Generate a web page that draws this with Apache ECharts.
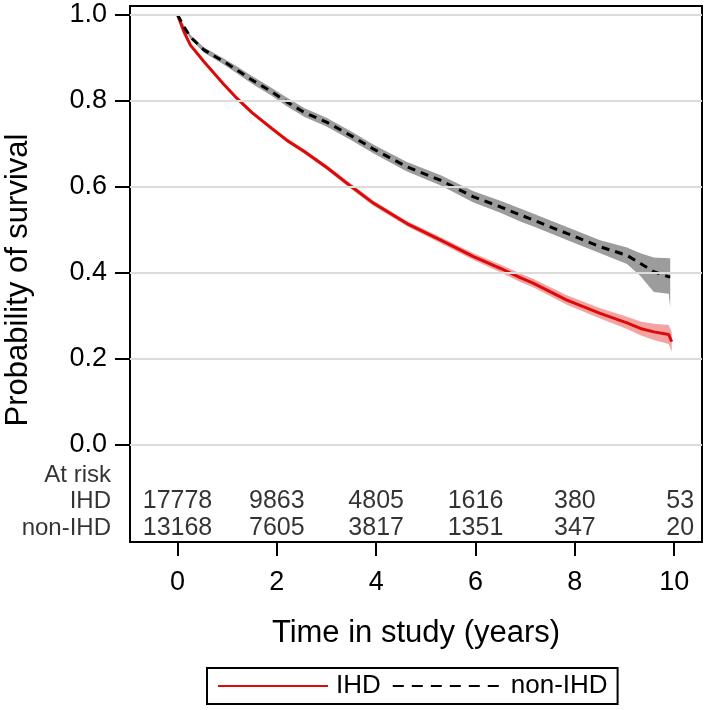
<!DOCTYPE html>
<html>
<head>
<meta charset="utf-8">
<script src="https://cdn.jsdelivr.net/npm/echarts@6/dist/echarts.min.js"></script>
<style>html,body{margin:0;padding:0;background:#fff}#c{width:709px;height:710px}</style>
</head>
<body>
<div id="c"></div>
<script>
// ---- data ----
const ihdTimes = [0, 0.13, 0.26, 0.53, 0.93, 1.2, 1.5, 1.89, 2.2, 2.56, 3.0, 3.5, 3.95, 4.62, 5.29, 5.96, 6.5, 6.9, 7.17, 7.84, 8.51, 9.05, 9.32, 9.59, 9.89, 9.95];
const ihdSurv  = [1.0, 0.960, 0.929, 0.891, 0.838, 0.805, 0.772, 0.736, 0.708, 0.681, 0.645, 0.600, 0.561, 0.514, 0.476, 0.437, 0.410, 0.388, 0.375, 0.336, 0.305, 0.283, 0.270, 0.262, 0.256, 0.239];
const ihdLower = [1.0, 0.958, 0.926, 0.888, 0.834, 0.801, 0.768, 0.731, 0.703, 0.676, 0.640, 0.594, 0.555, 0.508, 0.469, 0.429, 0.401, 0.378, 0.365, 0.325, 0.293, 0.269, 0.254, 0.243, 0.234, 0.216];
const ihdUpper = [1.0, 0.962, 0.932, 0.894, 0.842, 0.809, 0.776, 0.741, 0.713, 0.686, 0.650, 0.606, 0.567, 0.520, 0.483, 0.445, 0.419, 0.398, 0.385, 0.347, 0.317, 0.297, 0.286, 0.281, 0.278, 0.262];

const nonTimes = [0, 0.13, 0.26, 0.53, 0.93, 1.2, 1.5, 1.89, 2.2, 2.56, 3.0, 3.5, 3.95, 4.62, 5.29, 5.96, 6.5, 6.9, 7.17, 7.84, 8.51, 9.05, 9.32, 9.59, 9.89, 9.92];
const nonSurv  = [1.0, 0.972, 0.948, 0.918, 0.891, 0.871, 0.848, 0.821, 0.797, 0.772, 0.750, 0.718, 0.687, 0.646, 0.615, 0.576, 0.553, 0.534, 0.522, 0.491, 0.460, 0.440, 0.421, 0.402, 0.390, 0.390];
const nonLower = [1.0, 0.968, 0.943, 0.912, 0.884, 0.863, 0.839, 0.812, 0.787, 0.762, 0.740, 0.708, 0.677, 0.635, 0.603, 0.563, 0.539, 0.519, 0.507, 0.476, 0.445, 0.420, 0.392, 0.355, 0.351, 0.320];
const nonUpper = [1.0, 0.976, 0.953, 0.924, 0.898, 0.879, 0.857, 0.830, 0.807, 0.782, 0.760, 0.728, 0.697, 0.657, 0.627, 0.589, 0.567, 0.549, 0.537, 0.506, 0.475, 0.458, 0.445, 0.435, 0.433, 0.433];

const xTicks = [0, 2, 4, 6, 8, 10];
const yTicks = [0, 0.2, 0.4, 0.6, 0.8, 1.0];

const riskTimes = [0, 2, 4, 6, 8, 10];
const riskIHD = [17778, 9863, 4805, 1616, 380, 53];
const riskNon = [13168, 7605, 3817, 1351, 347, 20];
const riskRowLabels = ['At risk', 'IHD', 'non-IHD'];

// ---- layout constants ----
const X_MIN = -0.956, X_MAX = 10.56;
const Y_MIN = -0.2267, Y_MAX = 1.02;
const ROW_Y = [-0.0715, -0.132, -0.195];
const FONT = "'Liberation Sans', Arial, sans-serif";

const zip = (a, b) => a.map((v, i) => [v, b[i]]);

function bandSeries(name, times, lo, hi, color) {
  return {
    name: name,
    type: 'custom',
    silent: true,
    z: 1,
    data: [[times[0], lo[0]]],
    renderItem: function (params, api) {
      const pts = [];
      for (let i = 0; i < times.length; i++) pts.push(api.coord([times[i], hi[i]]));
      for (let i = times.length - 1; i >= 0; i--) pts.push(api.coord([times[i], lo[i]]));
      return { type: 'polygon', shape: { points: pts }, style: { fill: color } };
    }
  };
}

const tableData = [];
riskTimes.forEach((t, i) => {
  const last = i === riskTimes.length - 1;
  const lab = last ? { label: { offset: [6, 0] } } : {};
  tableData.push(Object.assign({ value: [t, ROW_Y[1]], text: String(riskIHD[i]) }, lab));
  tableData.push(Object.assign({ value: [t, ROW_Y[2]], text: String(riskNon[i]) }, lab));
});
const rowLabelData = riskRowLabels.map((s, i) => ({ value: [X_MIN, ROW_Y[i]], text: s }));

const chart = echarts.init(document.getElementById('c'), null, { renderer: 'canvas' });
chart.setOption({
  animation: false,
  backgroundColor: '#fff',
  textStyle: { fontFamily: FONT },
  grid: { left: 130, right: 7, top: 6, bottom: 168, show: true, borderColor: '#000', borderWidth: 2, backgroundColor: 'transparent' },
  xAxis: {
    type: 'value', min: X_MIN, max: X_MAX,
    name: 'Time in study (years)', nameLocation: 'middle', nameGap: 76,
    nameTextStyle: { fontSize: 31, color: '#000', fontFamily: FONT },
    axisLine: { show: true, onZero: false, lineStyle: { color: '#000', width: 2 } },
    axisTick: { show: true, length: 14, customValues: xTicks, lineStyle: { color: '#000', width: 2 } },
    axisLabel: { customValues: xTicks, fontSize: 27, color: '#000', margin: 27, fontFamily: FONT },
    splitLine: { show: false }
  },
  yAxis: {
    type: 'value', min: Y_MIN, max: Y_MAX,
    axisLine: { show: true, onZero: false, lineStyle: { color: '#000', width: 2 } },
    axisTick: { show: true, length: 15, customValues: yTicks, lineStyle: { color: '#000', width: 2 } },
    axisLabel: { customValues: yTicks, fontSize: 27, color: '#000', margin: 23, fontFamily: FONT,
      formatter: v => v.toFixed(1) },
    splitLine: { show: false }
  },
  legend: {
    left: 207, top: 668,
    data: [
      { name: 'IHD' },
      { name: 'non-IHD', lineStyle: { type: [11, 8] } }
    ],
    itemWidth: 110, itemHeight: 14, itemGap: 11,
    itemStyle: { opacity: 0 },
    borderColor: '#000', borderWidth: 2, borderRadius: 0,
    padding: [5, 10, 5, 10],
    textStyle: { fontSize: 26, color: '#000', fontFamily: FONT, padding: [0, 0, 0, 3] }
  },
  graphic: [{
    type: 'text', x: 18, y: 280, rotation: Math.PI / 2,
    style: { text: 'Probability of survival', fontSize: 31, fontFamily: FONT, fill: '#000', align: 'center', verticalAlign: 'middle' }
  }],
  series: [
    {
      name: 'grid', type: 'line', data: [], silent: true, z: 0,
      markLine: {
        silent: true, symbol: 'none', animation: false,
        label: { show: false },
        lineStyle: { color: '#dcdcdc', width: 2, type: 'solid' },
        data: yTicks.map(v => ({ yAxis: v }))
      }
    },
    bandSeries('non-IHD band', nonTimes, nonLower, nonUpper, '#9c9c9c'),
    bandSeries('IHD band', ihdTimes, ihdLower, ihdUpper, '#f4a3a3'),
    {
      name: 'IHD', type: 'line', symbol: 'none', z: 3,
      data: zip(ihdTimes, ihdSurv),
      lineStyle: { color: '#dd0a0a', width: 3 },
      itemStyle: { color: '#dd0a0a' }
    },
    {
      name: 'non-IHD', type: 'line', symbol: 'none', z: 4,
      data: zip(nonTimes, nonSurv),
      lineStyle: { color: '#000', width: 3, type: [8, 6] },
      itemStyle: { color: '#000' }
    },
    {
      name: 'table', type: 'scatter', symbolSize: 0, silent: true, z: 5,
      data: tableData,
      label: {
        show: true, position: 'inside', color: '#000', fontSize: 25, fontFamily: FONT,
        formatter: p => p.data.text
      }
    },
    {
      name: 'rowLabels', type: 'scatter', symbolSize: 0, silent: true, z: 5,
      data: rowLabelData,
      label: {
        show: true, position: 'left', distance: 19, color: '#000', fontSize: 24, fontFamily: FONT,
        formatter: p => p.data.text
      }
    }
  ]
});
</script>
</body>
</html>
